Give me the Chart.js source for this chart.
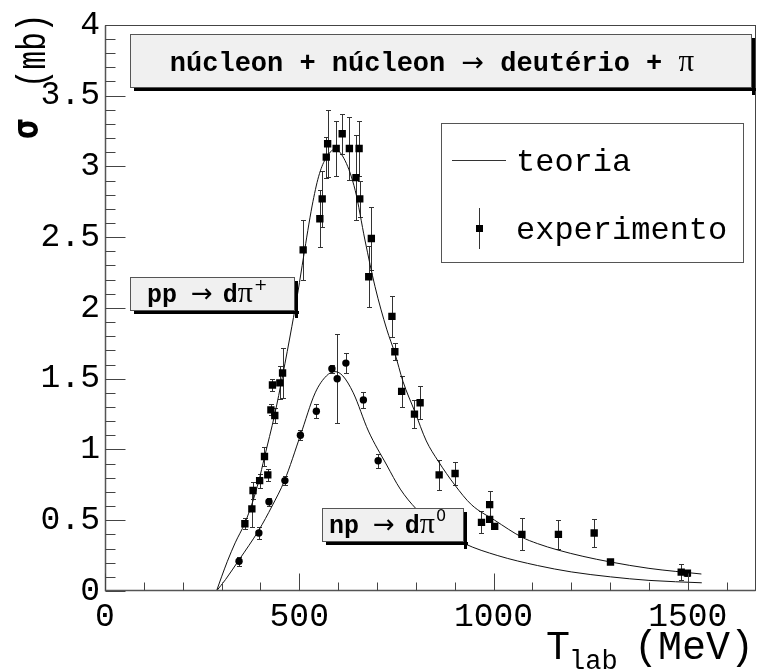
<!DOCTYPE html>
<html><head><meta charset="utf-8">
<script src="https://cdn.jsdelivr.net/npm/chart.js@4.4.1/dist/chart.umd.min.js"></script>
<style>html,body{margin:0;padding:0;background:#fff}#wrap{width:761px;height:672px}</style>
</head><body><div id="wrap"><canvas id="c" width="761" height="672"></canvas></div>
<script>
// ---- data ----
const ppX   = [360,378,381,398,410.5,419,427,431,437,450,457,510,553,559,569.5,573,595,610.5,629,646,654,655.7,678.8,685.5,738.5,746,763.5,796.5,811,860,901,969,990,990,1003,1073,1167,1259,1301,1483,1499];
const ppY   = [0.475,0.58,0.71,0.78,0.95,0.82,1.28,1.455,1.24,1.47,1.54,2.41,2.63,2.77,3.065,3.16,3.126,3.23,3.126,2.92,3.126,2.77,2.22,2.49,1.94,1.69,1.41,1.25,1.33,0.82,0.83,0.485,0.61,0.506,0.457,0.40,0.40,0.41,0.205,0.133,0.126];
const ppErr = [0.04,0.13,0.06,0.05,0.07,0.04,0.04,0.044,0.05,0.117,0.176,0.21,0.2,0.2,0.145,0.235,0.195,0.14,0.22,0.30,0.195,0.126,0.215,0.225,0.146,0.06,0.11,0.1,0.117,0.105,0.08,0.078,0.093,0.02,0.02,0.113,0.1,0.1,0.01,0.055,0.02];

const npX   = [345,396,422,463,503,544,584,597.6,620,665,703];
const npY   = [0.21,0.41,0.63,0.78,1.10,1.27,1.57,1.50,1.61,1.35,0.92];
const npErr = [0.03,0.04,0.03,0.03,0.035,0.05,0.027,0.315,0.069,0.058,0.049];

const ppTheoryX = [287,300,315,335,360,380,396,410,437,457,481,497,511,533,550,567,592,618,644,669,695,725,746,767,797,827,857,900,943,1003,1073,1113,1165,1230,1301,1400,1535];
const ppTheoryY = [0,0.1,0.21,0.34,0.48,0.63,0.78,0.94,1.25,1.52,1.87,2.12,2.36,2.72,2.93,3.05,3.12,3.04,2.83,2.48,2.15,1.85,1.68,1.48,1.27,1.06,0.92,0.75,0.61,0.5,0.38,0.335,0.29,0.245,0.205,0.16,0.12];
const npTheoryX = [287,310,345,370,396,430,462,503,541,570,592,612,639,678,725,760,801,860,925,1011,1113,1200,1301,1400,1536];
const npTheoryY = [0,0.08,0.22,0.32,0.43,0.6,0.78,1.10,1.4,1.52,1.55,1.52,1.4,1.13,0.89,0.72,0.58,0.44,0.335,0.25,0.18,0.135,0.1,0.075,0.058];

const xTicks = [0,500,1000,1500];
const yTicks = [0,0.5,1,1.5,2,2.5,3,3.5,4];
const xRange = [0,1675];
const yRange = [0,4];

const titleParts = ['núcleon + núcleon ', '\u2192', ' deutério + ', '\u03c0'];
const legendLabels = ['teoria','experimento'];
const ppLabel = ['pp','\u2192','d','\u03c0','+'];
const npLabel = ['np','\u2192','d','\u03c0','0'];
const xTitle = ['T','lab','(MeV)'];
const yTitle = ['\u03c3','(mb)'];

// ---- drawing ----
const MONO = '"Liberation Mono","DejaVu Sans Mono",monospace';
const GREEK = '"Liberation Serif","DejaVu Serif",serif';

function toPts(xs, ys){ return xs.map((x,i)=>({x:x, y:ys[i]})); }

function drawErrors(ctx, xs, ys, es, xs_, ys_){
  ctx.save();
  ctx.strokeStyle = '#333'; ctx.lineWidth = 1;
  ctx.beginPath();
  for (let i=0;i<xs.length;i++){
    const px = Math.round(xs_.getPixelForValue(xs[i]))+0.5;
    const y1 = Math.round(ys_.getPixelForValue(ys[i]-es[i]))+0.5;
    const y2 = Math.round(ys_.getPixelForValue(ys[i]+es[i]))+0.5;
    ctx.moveTo(px,y1); ctx.lineTo(px,y2);
    ctx.moveTo(px-2.5,y1); ctx.lineTo(px+2.5,y1);
    ctx.moveTo(px-2.5,y2); ctx.lineTo(px+2.5,y2);
  }
  ctx.stroke();
  ctx.restore();
}

function shadowBox(ctx, x1,y1,x2,y2, fill){
  ctx.fillStyle = '#000';
  ctx.fillRect(x1+4, y2, x2-x1, 3);
  ctx.fillRect(x2, y1+4, 3, y2-y1+3);
  ctx.fillStyle = fill;
  ctx.fillRect(x1,y1,x2-x1,y2-y1);
  ctx.strokeStyle = '#555'; ctx.lineWidth = 1;
  ctx.strokeRect(x1+0.5,y1+0.5,x2-x1-1,y2-y1-1);
}

function reaction(ctx, parts, x, y){
  ctx.fillStyle='#000'; ctx.textAlign='left'; ctx.textBaseline='alphabetic';
  ctx.font = 'bold 25px '+MONO; ctx.fillText(parts[0], x, y);
  x += ctx.measureText(parts[0]).width + 14;
  ctx.font = '26px "DejaVu Sans"'; ctx.fillText(parts[1], x, y);
  x += ctx.measureText(parts[1]).width + 10;
  ctx.font = 'bold 25px '+MONO; ctx.fillText(parts[2], x, y);
  x += ctx.measureText(parts[2]).width;
  ctx.font = '30px '+GREEK; ctx.fillText(parts[3], x, y);
  x += ctx.measureText(parts[3]).width + 1;
  ctx.font = '16px "DejaVu Sans"'; ctx.fillText(parts[4], x, y-12);
}

const decor = {
  id:'decor',
  beforeDatasetsDraw(chart){
    const ctx = chart.ctx, sx = chart.scales.x, sy = chart.scales.y;
    ctx.save();
    const a = chart.chartArea;
    ctx.beginPath(); ctx.rect(a.left,a.top,a.right-a.left,a.bottom-a.top); ctx.clip();
    drawErrors(ctx, ppX, ppY, ppErr, sx, sy);
    drawErrors(ctx, npX, npY, npErr, sx, sy);
    ctx.restore();
  },
  afterDatasetsDraw(chart){
    const ctx = chart.ctx, sx = chart.scales.x, sy = chart.scales.y, a = chart.chartArea;
    ctx.save();
    // frame
    ctx.strokeStyle = '#444'; ctx.lineWidth = 1;
    const L = Math.round(a.left)+0.5, R = Math.round(a.right)-0.5, T = Math.round(a.top)+0.5, B = Math.round(a.bottom)-0.5;
    ctx.strokeRect(L, T, R-L, B-T);
    ctx.beginPath(); ctx.strokeStyle='#555'; ctx.lineWidth = 1.5;
    ctx.moveTo(L, T); ctx.lineTo(L, B); ctx.lineTo(R, B); ctx.stroke();
    // ticks
    ctx.beginPath(); ctx.strokeStyle = '#444'; ctx.lineWidth = 1;
    for (let k=0; k*100<=xRange[1]; k++){
      const px = Math.round(sx.getPixelForValue(k*100))+0.5;
      const len = (k%5===0)?17:8;
      ctx.moveTo(px, B); ctx.lineTo(px, B-len);
    }
    for (let k=0; k<=40; k++){
      const py = Math.round(sy.getPixelForValue(k/10))+0.5;
      const len = (k%5===0)?20:10;
      ctx.moveTo(L, py); ctx.lineTo(L+len, py);
    }
    ctx.stroke();

    // title box
    shadowBox(ctx, 130, 34, 752, 88, '#f0f0f0');
    ctx.fillStyle = '#000'; ctx.textBaseline='alphabetic'; ctx.textAlign='left';
    const fonts = ['bold 27px '+MONO, '27px "DejaVu Sans"', 'bold 27px '+MONO, '31px '+GREEK];
    let w = 0;
    for (let i=0;i<titleParts.length;i++){ ctx.font = fonts[i]; w += ctx.measureText(titleParts[i]).width; }
    let tx = 432 - w/2;
    for (let i=0;i<titleParts.length;i++){ ctx.font = fonts[i]; ctx.fillText(titleParts[i], tx, 71); tx += ctx.measureText(titleParts[i]).width; }

    // legend box
    ctx.fillStyle = '#fff'; ctx.fillRect(441,123,303,140);
    ctx.strokeStyle = '#555'; ctx.lineWidth=1; ctx.strokeRect(441.5,123.5,302,139);
    ctx.beginPath(); ctx.strokeStyle='#333'; ctx.moveTo(452,160.5); ctx.lineTo(506,160.5); ctx.stroke();
    ctx.beginPath(); ctx.moveTo(479.5,208); ctx.lineTo(479.5,249); ctx.stroke();
    ctx.fillStyle='#000'; ctx.fillRect(476,225,7,7);
    ctx.font = '32px '+MONO; ctx.textAlign='left'; ctx.textBaseline='middle';
    ctx.fillText(legendLabels[0], 516, 163);
    ctx.fillText(legendLabels[1], 516, 231);

    // reaction labels
    shadowBox(ctx, 130, 277, 295, 311, '#f0f0f0');
    reaction(ctx, ppLabel, 147, 302);
    shadowBox(ctx, 322, 508, 464, 542, '#f0f0f0');
    reaction(ctx, npLabel, 329, 533);

    // x title
    ctx.fillStyle='#000'; ctx.textAlign='left'; ctx.textBaseline='alphabetic';
    ctx.font = '40px '+MONO; ctx.fillText(xTitle[0], 546, 659);
    ctx.font = '27px '+MONO; ctx.fillText(xTitle[1], 569, 669);
    ctx.font = '40px '+MONO; ctx.fillText(xTitle[2], 634, 659);

    // y title (rotated, tall glyphs)
    ctx.save();
    ctx.rotate(-Math.PI/2);
    const s = 1.3;
    ctx.scale(1, s);
    ctx.textAlign='left';
    ctx.font = 'bold 27px "DejaVu Sans"'; ctx.fillText(yTitle[0], -139, 38/s);
    ctx.font = '31px '+MONO; ctx.fillText(yTitle[1], -88, 45/s);
    ctx.restore();

    ctx.restore();
  }
};

new Chart(document.getElementById('c'), {
  type:'scatter',
  data:{ datasets:[
    {type:'line', label:'pp teoria', data:toPts(ppTheoryX,ppTheoryY), borderColor:'#111', borderWidth:1, pointRadius:0, showLine:true, fill:false, cubicInterpolationMode:'monotone', order:3},
    {type:'line', label:'np teoria', data:toPts(npTheoryX,npTheoryY), borderColor:'#111', borderWidth:1, pointRadius:0, showLine:true, fill:false, cubicInterpolationMode:'monotone', order:3},
    {label:'pp', data:toPts(ppX,ppY), pointStyle:'rect', pointRadius:5.2, backgroundColor:'#000', borderColor:'#000', borderWidth:0, order:1},
    {label:'np', data:toPts(npX,npY), pointStyle:'circle', pointRadius:3.7, backgroundColor:'#000', borderColor:'#000', borderWidth:0, order:1}
  ]},
  options:{
    responsive:false, animation:false, devicePixelRatio:1,
    layout:{padding:{left:0, top:19, right:2, bottom:0}},
    plugins:{legend:{display:false}, tooltip:{enabled:false}},
    scales:{
      x:{type:'linear', min:xRange[0], max:xRange[1],
         afterFit:s=>{s.height=81;},
         afterBuildTicks:s=>{s.ticks = xTicks.map(v=>({value:v}));},
         grid:{display:false, drawTicks:false}, border:{display:false},
         ticks:{autoSkip:false, maxRotation:0, padding:6, color:'#000', font:{family:'"Liberation Mono"', size:33},
                callback:v=>String(v)}},
      y:{type:'linear', min:yRange[0], max:yRange[1],
         afterFit:s=>{s.width=105;},
         afterBuildTicks:s=>{s.ticks = yTicks.map(v=>({value:v}));},
         grid:{display:false, drawTicks:false}, border:{display:false},
         ticks:{autoSkip:false, padding:5, color:'#000', font:{family:'"Liberation Mono"', size:33},
                callback:v=>String(v)}}
    }
  },
  plugins:[decor]
});
</script>
</body></html>
